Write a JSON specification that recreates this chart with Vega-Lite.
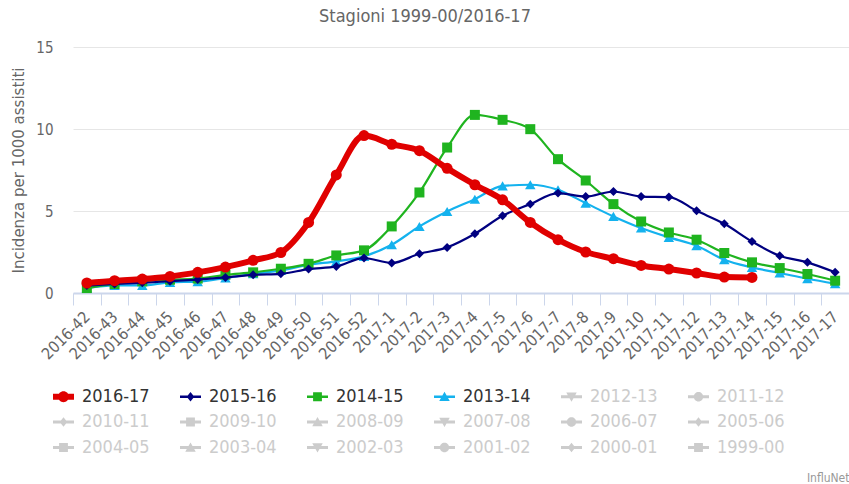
{
  "$schema": "https://vega.github.io/schema/vega-lite/v6.json",
  "width": 776,
  "height": 246,
  "autosize": "none",
  "padding": {"left": 73, "top": 47, "right": 0, "bottom": 191},
  "background": "white",
  "title": {
    "text": "Stagioni 1999-00/2016-17",
    "font": "DejaVu Sans Condensed, Liberation Sans Narrow, sans-serif",
    "fontSize": 18,
    "fontWeight": "normal",
    "color": "#666666",
    "anchor": "middle",
    "dx": -36,
    "offset": 14
  },
  "data": {
    "values": [
      {"week": "2016-42", "2016-17": 0.61, "2015-16": 0.45, "2014-15": 0.30, "2013-14": 0.30},
      {"week": "2016-43", "2016-17": 0.75, "2015-16": 0.55, "2014-15": 0.55, "2013-14": 0.46},
      {"week": "2016-44", "2016-17": 0.85, "2015-16": 0.62, "2014-15": 0.71, "2013-14": 0.46},
      {"week": "2016-45", "2016-17": 1.01, "2015-16": 0.72, "2014-15": 0.81, "2013-14": 0.65},
      {"week": "2016-46", "2016-17": 1.26, "2015-16": 0.82, "2014-15": 0.88, "2013-14": 0.69},
      {"week": "2016-47", "2016-17": 1.58, "2015-16": 0.95, "2014-15": 1.11, "2013-14": 0.91},
      {"week": "2016-48", "2016-17": 1.99, "2015-16": 1.11, "2014-15": 1.26, "2013-14": 1.17},
      {"week": "2016-49", "2016-17": 2.47, "2015-16": 1.17, "2014-15": 1.48, "2013-14": 1.38},
      {"week": "2016-50", "2016-17": 4.30, "2015-16": 1.46, "2014-15": 1.78, "2013-14": 1.72},
      {"week": "2016-51", "2016-17": 7.20, "2015-16": 1.62, "2014-15": 2.29, "2013-14": 1.93},
      {"week": "2016-52", "2016-17": 9.60, "2015-16": 2.13, "2014-15": 2.60, "2013-14": 2.23},
      {"week": "2017-1", "2016-17": 9.07, "2015-16": 1.83, "2014-15": 4.06, "2013-14": 2.94},
      {"week": "2017-2", "2016-17": 8.68, "2015-16": 2.39, "2014-15": 6.13, "2013-14": 4.06},
      {"week": "2017-3", "2016-17": 7.60, "2015-16": 2.78, "2014-15": 8.87, "2013-14": 4.97},
      {"week": "2017-4", "2016-17": 6.60, "2015-16": 3.61, "2014-15": 10.86, "2013-14": 5.72},
      {"week": "2017-5", "2016-17": 5.68, "2015-16": 4.71, "2014-15": 10.56, "2013-14": 6.53},
      {"week": "2017-6", "2016-17": 4.30, "2015-16": 5.42, "2014-15": 9.99, "2013-14": 6.60},
      {"week": "2017-7", "2016-17": 3.25, "2015-16": 6.09, "2014-15": 8.16, "2013-14": 6.29},
      {"week": "2017-8", "2016-17": 2.50, "2015-16": 5.88, "2014-15": 6.86, "2013-14": 5.48},
      {"week": "2017-9", "2016-17": 2.09, "2015-16": 6.19, "2014-15": 5.42, "2013-14": 4.67},
      {"week": "2017-10", "2016-17": 1.68, "2015-16": 5.88, "2014-15": 4.36, "2013-14": 3.96},
      {"week": "2017-11", "2016-17": 1.46, "2015-16": 5.85, "2014-15": 3.69, "2013-14": 3.39},
      {"week": "2017-12", "2016-17": 1.22, "2015-16": 5.01, "2014-15": 3.25, "2013-14": 2.88},
      {"week": "2017-13", "2016-17": 0.97, "2015-16": 4.22, "2014-15": 2.44, "2013-14": 2.03},
      {"week": "2017-14", "2016-17": 0.95, "2015-16": 3.14, "2014-15": 1.87, "2013-14": 1.56},
      {"week": "2017-15", "2016-17": null, "2015-16": 2.27, "2014-15": 1.52, "2013-14": 1.22},
      {"week": "2017-16", "2016-17": null, "2015-16": 1.87, "2014-15": 1.16, "2013-14": 0.87},
      {"week": "2017-17", "2016-17": null, "2015-16": 1.26, "2014-15": 0.75, "2013-14": 0.57}
    ]
  },
  "transform": [
    {"fold": ["2013-14", "2014-15", "2015-16", "2016-17"], "as": ["season", "v"]},
    {"filter": "isValid(datum.v)"}
  ],
  "encoding": {
    "x": {
      "field": "week",
      "type": "ordinal",
      "sort": ["2016-42","2016-43","2016-44","2016-45","2016-46","2016-47","2016-48","2016-49","2016-50","2016-51","2016-52","2017-1","2017-2","2017-3","2017-4","2017-5","2017-6","2017-7","2017-8","2017-9","2017-10","2017-11","2017-12","2017-13","2017-14","2017-15","2017-16","2017-17"],
      "scale": {"type": "band", "paddingInner": 0, "paddingOuter": 0},
      "axis": {
        "title": "InfluNet",
        "titleFont": "DejaVu Sans Condensed, Liberation Sans Narrow, sans-serif",
        "titleFontSize": 12,
        "titleFontWeight": "normal",
        "titleColor": "#999999",
        "titleAnchor": "end",
        "titleAlign": "right",
        "titleBaseline": "alphabetic",
        "titleX": 776,
        "titleY": 188,
        "labelAngle": -45,
        "labelAlign": "right",
        "labelBaseline": "middle",
        "labelFont": "DejaVu Sans Condensed, Liberation Sans Narrow, sans-serif",
        "labelFontSize": 16,
        "labelColor": "#666666",
        "labelPadding": 9,
        "labelOverlap": false,
        "labelBound": false,
        "tickBand": "extent",
        "tickSize": 12,
        "tickColor": "#ccd6eb",
        "domainColor": "#ccd6eb",
        "domainWidth": 2,
        "grid": false
      }
    },
    "y": {
      "field": "v",
      "type": "quantitative",
      "scale": {"domain": [0, 15], "nice": false},
      "axis": {
        "values": [0, 5, 10, 15],
        "title": "Incidenza per 1000 assistiti",
        "titleFont": "DejaVu Sans, sans-serif",
        "titleFontSize": 15,
        "titleFontWeight": "normal",
        "titleColor": "#666666",
        "titlePadding": 9,
        "labelFont": "DejaVu Sans Condensed, Liberation Sans Narrow, sans-serif",
        "labelFontSize": 15,
        "labelColor": "#666666",
        "labelPadding": 20,
        "domain": false,
        "ticks": false,
        "gridColor": "#e6e6e6",
        "gridWidth": 1
      }
    }
  },
  "layer": [
    {
      "transform": [{"filter": "datum.season === '2013-14'"}],
      "mark": {"type": "line", "interpolate": "monotone", "strokeWidth": 2.2, "color": "#14b2ee",
        "point": {"shape": "triangle-up", "size": 110, "filled": true, "opacity": 1, "color": "#14b2ee"}}
    },
    {
      "transform": [{"filter": "datum.season === '2014-15'"}],
      "mark": {"type": "line", "interpolate": "monotone", "strokeWidth": 2.2, "color": "#1fb41f",
        "point": {"shape": "square", "size": 100, "filled": true, "opacity": 1, "color": "#1fb41f"}}
    },
    {
      "transform": [{"filter": "datum.season === '2015-16'"}],
      "mark": {"type": "line", "interpolate": "monotone", "strokeWidth": 2.2, "color": "#000080",
        "point": {"shape": "diamond", "size": 80, "filled": true, "opacity": 1, "color": "#000080"}}
    },
    {
      "transform": [{"filter": "datum.season === '2016-17'"}],
      "mark": {"type": "line", "interpolate": "monotone", "strokeWidth": 6, "color": "#e00000",
        "point": {"shape": "circle", "size": 121, "filled": true, "opacity": 1, "color": "#e00000"}}
    },
    {
      "mark": {"type": "point", "filled": true, "opacity": 0},
      "encoding": {
        "color": {
          "field": "season",
          "type": "nominal",
          "scale": {
            "domain": ["2016-17","2015-16","2014-15","2013-14","2012-13","2011-12","2010-11","2009-10","2008-09","2007-08","2006-07","2005-06","2004-05","2003-04","2002-03","2001-02","2000-01","1999-00"],
            "range": ["#e00000","#000080","#1fb41f","#14b2ee","#cccccc","#cccccc","#cccccc","#cccccc","#cccccc","#cccccc","#cccccc","#cccccc","#cccccc","#cccccc","#cccccc","#cccccc","#cccccc","#cccccc"]
          },
          "legend": {
            "title": null,
            "orient": "none",
            "legendX": -20,
            "legendY": 339,
            "direction": "horizontal",
            "columns": 6,
            "gridAlign": "all",
            "columnPadding": 30,
            "rowPadding": 5.5,
            "symbolSize": 441,
            "symbolStrokeWidth": 0,
            "symbolOpacity": 1,
            "labelFont": "DejaVu Sans Condensed, Liberation Sans Narrow, sans-serif",
            "labelFontSize": 18,
            "labelOffset": 8,
            "labelColor": "#333333",
            "encode": {"labels": {"update": {"fill": {"signal": "indexof(['2016-17','2015-16','2014-15','2013-14'], datum.value) >= 0 ? '#333333' : '#cccccc'"}}}}
          }
        },
        "shape": {
          "field": "season",
          "type": "nominal",
          "scale": {
            "domain": ["2016-17","2015-16","2014-15","2013-14","2012-13","2011-12","2010-11","2009-10","2008-09","2007-08","2006-07","2005-06","2004-05","2003-04","2002-03","2001-02","2000-01","1999-00"],
            "range": [
              "M-1,-0.28H1V0.28H-1Z M-0.52,0A0.52,0.52 0 1,1 0.52,0A0.52,0.52 0 1,1 -0.52,0Z",
              "M-1,-0.12H1V0.12H-1Z M0,-0.45L0.36,0L0,0.45L-0.36,0Z",
              "M-1,-0.12H1V0.12H-1Z M-0.42,-0.42H0.42V0.42H-0.42Z",
              "M-1,-0.12H1V0.12H-1Z M0,-0.48L0.5,0.4H-0.5Z",
              "M-1,-0.14H1V0.14H-1Z M-0.5,-0.4H0.5L0,0.48Z",
              "M-1,-0.14H1V0.14H-1Z M-0.45,0A0.45,0.45 0 1,1 0.45,0A0.45,0.45 0 1,1 -0.45,0Z",
              "M-1,-0.14H1V0.14H-1Z M0,-0.45L0.36,0L0,0.45L-0.36,0Z",
              "M-1,-0.14H1V0.14H-1Z M-0.42,-0.42H0.42V0.42H-0.42Z",
              "M-1,-0.14H1V0.14H-1Z M0,-0.48L0.5,0.4H-0.5Z",
              "M-1,-0.14H1V0.14H-1Z M-0.5,-0.4H0.5L0,0.48Z",
              "M-1,-0.14H1V0.14H-1Z M-0.45,0A0.45,0.45 0 1,1 0.45,0A0.45,0.45 0 1,1 -0.45,0Z",
              "M-1,-0.14H1V0.14H-1Z M0,-0.45L0.36,0L0,0.45L-0.36,0Z",
              "M-1,-0.14H1V0.14H-1Z M-0.42,-0.42H0.42V0.42H-0.42Z",
              "M-1,-0.14H1V0.14H-1Z M0,-0.48L0.5,0.4H-0.5Z",
              "M-1,-0.14H1V0.14H-1Z M-0.5,-0.4H0.5L0,0.48Z",
              "M-1,-0.14H1V0.14H-1Z M-0.45,0A0.45,0.45 0 1,1 0.45,0A0.45,0.45 0 1,1 -0.45,0Z",
              "M-1,-0.14H1V0.14H-1Z M0,-0.45L0.36,0L0,0.45L-0.36,0Z",
              "M-1,-0.14H1V0.14H-1Z M-0.42,-0.42H0.42V0.42H-0.42Z"
            ]
          },
          "legend": {
            "title": null,
            "orient": "none",
            "legendX": -20,
            "legendY": 339,
            "direction": "horizontal",
            "columns": 6,
            "gridAlign": "all",
            "columnPadding": 30,
            "rowPadding": 5.5,
            "symbolSize": 441,
            "symbolStrokeWidth": 0,
            "symbolOpacity": 1,
            "labelFont": "DejaVu Sans Condensed, Liberation Sans Narrow, sans-serif",
            "labelFontSize": 18,
            "labelOffset": 8,
            "labelColor": "#333333",
            "encode": {"labels": {"update": {"fill": {"signal": "indexof(['2016-17','2015-16','2014-15','2013-14'], datum.value) >= 0 ? '#333333' : '#cccccc'"}}}}
          }
        }
      }
    }
  ],
  "config": {
    "view": {"stroke": null}
  }
}
